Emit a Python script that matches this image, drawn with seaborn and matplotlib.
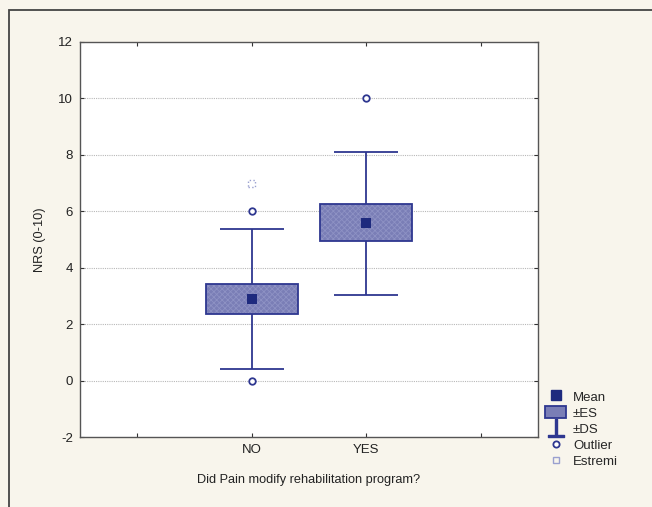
import numpy as np
import pandas as pd
import matplotlib
matplotlib.use("Agg")
import matplotlib.pyplot as plt
import seaborn as sns
from matplotlib.lines import Line2D
from matplotlib.patches import Patch, Rectangle

# ---- data ----
categories = ["NO", "YES"]
cat_pos = [1, 2]
means = [2.88, 5.58]
se_low = [2.35, 4.94]
se_high = [3.43, 6.25]
sd_low = [0.42, 3.05]
sd_high = [5.37, 8.10]
outlier_cat = [1, 1, 2]
outlier_val = [6.0, 0.0, 10.0]
extreme_cat = [1]
extreme_val = [7.0]
y_ticks = [-2, 0, 2, 4, 6, 8, 10, 12]
x_tick_labels = ["", "NO", "YES", ""]

sns.set_theme(style="white")
plt.rcParams["font.family"] = ["Liberation Sans", "DejaVu Sans"]
plt.rcParams["axes.unicode_minus"] = False
plt.rcParams["hatch.linewidth"] = 0.6

edge = "#2e3790"
fill = "#7a7eb6"
hatch_col = "#8e92c4"
mean_col = "#1e2a7e"
bg = "#f8f5ec"

fig = plt.figure(figsize=(6.52, 5.07), dpi=100, facecolor=bg)
ax = fig.add_axes([80 / 652, 1 - 437 / 507, 458 / 652, 395 / 507])
ax.set_facecolor("white")

# outer frame
fig.patches.append(Rectangle((9 / 652, -0.05), 1.0, 1 - 10 / 507 + 0.05,
                             transform=fig.transFigure, fill=False,
                             edgecolor="#444444", linewidth=1.3, zorder=0))

# gridlines
for yv in y_ticks[1:-1]:
    ax.axhline(yv, color="#b8b8b8", linestyle=(0, (1, 1)), linewidth=0.8, zorder=0)

df = pd.DataFrame({"x": cat_pos, "mean": means})

# whiskers (±SD)
for x, l, h, bl, bh in zip(cat_pos, sd_low, sd_high, se_low, se_high):
    ax.vlines(x, l, bl, color=edge, linewidth=1.3, zorder=2)
    ax.vlines(x, bh, h, color=edge, linewidth=1.3, zorder=2)
    ax.hlines([l, h], x - 0.28, x + 0.28, color=edge, linewidth=1.3, zorder=2)

# boxes (±SE): hatched fill, then outline
heights = np.array(se_high) - np.array(se_low)
ax.bar(cat_pos, heights, bottom=se_low, width=0.8, color=fill,
       edgecolor=hatch_col, linewidth=0, hatch="xxxxxx", zorder=3)
ax.bar(cat_pos, heights, bottom=se_low, width=0.8, fill=False,
       edgecolor=edge, linewidth=1.3, zorder=4)

# means
sns.scatterplot(data=df, x="x", y="mean", ax=ax, marker="s", s=42, color=mean_col,
                edgecolor=mean_col, linewidth=0, zorder=5, legend=False)
# outliers
sns.scatterplot(x=outlier_cat, y=outlier_val, ax=ax, marker="o", s=22,
                facecolor="white", edgecolor=edge, linewidth=1.3, zorder=5, legend=False)
# extremes
sns.scatterplot(x=extreme_cat, y=extreme_val, ax=ax, marker="s", s=26,
                facecolor="none", edgecolor="#9aa0cf", linewidth=1.0,
                linestyle=":", zorder=5, legend=False)

ax.set_xlim(-0.5, 3.5)
ax.set_ylim(-2, 12)
ax.set_yticks(y_ticks)
ax.set_xticks([0, 1, 2, 3])
ax.set_xticklabels(x_tick_labels)
ax.tick_params(axis="both", which="both", direction="in", length=3, width=0.8,
               colors="#333333", labelsize=9.5, labelcolor="#222222",
               top=True, right=True, bottom=True, left=True, pad=5)
for s in ax.spines.values():
    s.set_color("#555555")
    s.set_linewidth(1.0)
ax.set_xlabel("Did Pain modify rehabilitation program?", fontsize=9.2, color="#222222", labelpad=13)
ax.set_ylabel("NRS (0-10)", fontsize=9.2, color="#222222", labelpad=9)

handles = [
    Line2D([], [], marker="s", linestyle="none", color=mean_col, markersize=6.5),
    Patch(facecolor=fill, edgecolor=edge, linewidth=1.3),
    Line2D([], [], marker=r"$\perp$", linestyle="none", color=edge, markersize=13),
    Line2D([], [], marker="o", linestyle="none", markerfacecolor="white",
           markeredgecolor=edge, markersize=4.5, markeredgewidth=1.3),
    Line2D([], [], marker="s", linestyle="none", markerfacecolor="none",
           markeredgecolor="#9aa0cf", markersize=4.5, markeredgewidth=1.0),
]
labels = ["Mean", "±ES", "±DS", "Outlier", "Estremi"]
fig.legend(handles, labels, loc="upper left", bbox_to_anchor=(540 / 652, 1 - 385 / 507),
           frameon=False, fontsize=9.5, handlelength=1.6, handleheight=1.0,
           handletextpad=0.5, labelspacing=0.2, borderaxespad=0)

fig.savefig("out.png", dpi=100, facecolor=bg)
